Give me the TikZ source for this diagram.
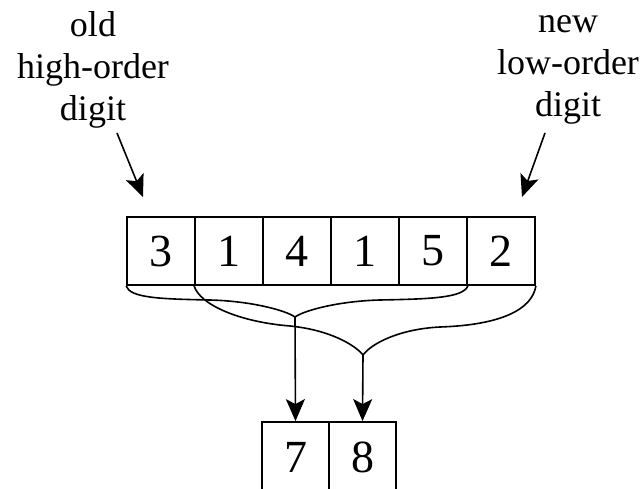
\documentclass[tikz,border=0pt]{standalone}
\usepackage{fontspec}
\setmainfont{Liberation Serif}
\usetikzlibrary{arrows.meta}
\begin{document}
\begin{tikzpicture}[x=1pt,y=-1pt,
  cell/.style={draw,line width=1.8pt,minimum width=68pt,minimum height=68pt,inner sep=0pt,font=\fontsize{46}{46}\selectfont},
  lowcell/.style={draw,line width=1.8pt,minimum width=67pt,minimum height=72pt,inner sep=0pt,font=\fontsize{46}{46}\selectfont},
  lbl/.style={align=center,inner sep=0pt,font=\fontsize{36}{42}\selectfont},
  brace/.style={line width=1.6pt},
  arr/.style={line width=1.6pt,-{Stealth[length=22pt,width=19pt,inset=5pt]}}]
\useasboundingbox (0,0) rectangle (643,489);
% top row
\node[cell] (c1) at (161,251) {3};
\node[cell] (c2) at (229,251) {1};
\node[cell] (c3) at (297,251) {4};
\node[cell] (c4) at (365,251) {1};
\node[cell] (c5) at (433,251) {5};
\node[cell] (c6) at (501,251) {2};
% bottom row
\node[lowcell] (d1) at (295.5,458) {};
\node[lowcell] (d2) at (362.5,458) {};
\node[font=\fontsize{46}{46}\selectfont] at (295.5,457) {7};
\node[font=\fontsize{46}{46}\selectfont] at (362.5,457) {8};
% labels
\node[lbl] (old) at (93,70) {old\\high-order\\digit};
\node[lbl] (new) at (568,70) {new\\low-order\\digit};
\coordinate (oldtail) at (117,133);
\coordinate (newtail) at (545,133);
\draw[arr] (oldtail) -- (143,197);
\draw[arr] (newtail) -- (522,197);
% braces
\coordinate (t1) at (295,317);
\coordinate (t2) at (363,355);
\draw[brace] (c1.south west) .. controls (130,298) and (160,299) .. (210,300)
  .. controls (250,301) and (285,310) .. (t1);
\draw[brace] (c5.south east) .. controls (463,298) and (430,299) .. (380,300)
  .. controls (340,301) and (305,310) .. (t1);
\draw[brace] (c2.south west) .. controls (200,305) and (240,322) .. (290,326)
  .. controls (330,330) and (355,345) .. (t2);
\draw[brace] (c6.south east) .. controls (532,310) and (500,325) .. (440,327)
  .. controls (400,329) and (372,343) .. (t2);
\draw[arr] (t1) -- (d1.north);
\draw[arr] (t2) -- (d2.north);
\end{tikzpicture}
\end{document}
